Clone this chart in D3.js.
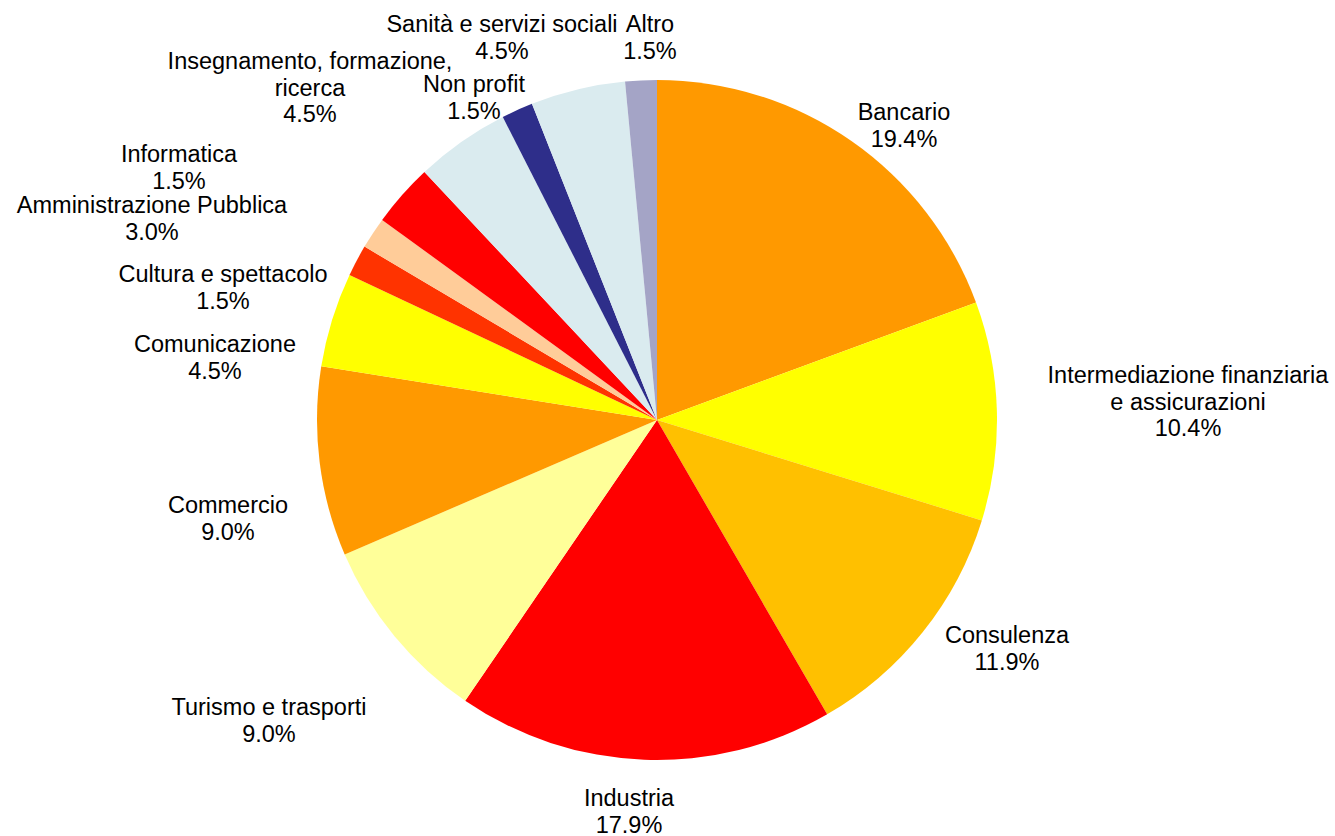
<!DOCTYPE html>
<html>
<head>
<meta charset="utf-8">
<script src="https://cdn.jsdelivr.net/npm/d3@7"></script>
<style>
  html, body { margin: 0; padding: 0; background: #ffffff; }
  svg { display: block; }
  text { font-family: "Liberation Sans", Arial, sans-serif; fill: #000; }
</style>
</head>
<body>
<svg id="chart" width="1335" height="836"></svg>
<script>
// ---- data ----
const categories = [
  "Bancario",
  "Intermediazione finanziaria e assicurazioni",
  "Consulenza",
  "Industria",
  "Turismo e trasporti",
  "Commercio",
  "Comunicazione",
  "Cultura e spettacolo",
  "Informatica",
  "Amministrazione Pubblica",
  "Insegnamento, formazione, ricerca",
  "Non profit",
  "Sanità e servizi sociali",
  "Altro"
];
const values = [19.4, 10.4, 11.9, 17.9, 9.0, 9.0, 4.5, 1.5, 1.5, 3.0, 4.5, 1.5, 4.5, 1.5];

// label line breaks (as shown in the chart)
const labelLines = [
  ["Bancario"],
  ["Intermediazione finanziaria", "e assicurazioni"],
  ["Consulenza"],
  ["Industria"],
  ["Turismo e trasporti"],
  ["Commercio"],
  ["Comunicazione"],
  ["Cultura e spettacolo"],
  ["Informatica"],
  ["Amministrazione Pubblica"],
  ["Insegnamento, formazione,", "ricerca"],
  ["Non profit"],
  ["Sanità e servizi sociali"],
  ["Altro"]
];

// ---- styles / layout ----
const colors = ["#FF9900", "#FFFF00", "#FFC000", "#FF0000", "#FFFF99", "#FF9900",
                "#FFFF00", "#FF3300", "#FFCC99", "#FF0000", "#DAEBEF", "#2E2E8A",
                "#DAEBEF", "#A4A4C6"];
// label anchor (center x, first baseline y)
const labelPos = [
  [904, 120], [1188, 383], [1007, 643], [629, 806], [269, 715], [228, 513],
  [215, 352], [223, 282], [179, 162], [152, 213], [310, 69], [474, 92],
  [502, 32], [650, 32]
];

const cx = 657, cy = 420, r = 340;
const fontSize = 23.5, lineH = 26.5;

const svg = d3.select("#chart");
const g = svg.append("g").attr("transform", `translate(${cx},${cy})`);

const data = categories.map((c, i) => ({ name: c, value: values[i], i }));
const pie = d3.pie().value(d => d.value).sort(null);
const arc = d3.arc().innerRadius(0).outerRadius(r);

g.selectAll("path.slice")
  .data(pie(data))
  .join("path")
  .attr("class", "slice")
  .attr("d", arc)
  .attr("fill", d => colors[d.data.i]);

const labels = svg.append("g");
data.forEach((d, i) => {
  const lines = labelLines[i].concat([d.value.toFixed(1) + "%"]);
  const t = labels.append("text")
    .attr("text-anchor", "middle")
    .attr("font-size", fontSize);
  lines.forEach((ln, k) => {
    t.append("tspan")
      .attr("x", labelPos[i][0])
      .attr("y", labelPos[i][1] + k * lineH)
      .text(ln);
  });
});
</script>
</body>
</html>
